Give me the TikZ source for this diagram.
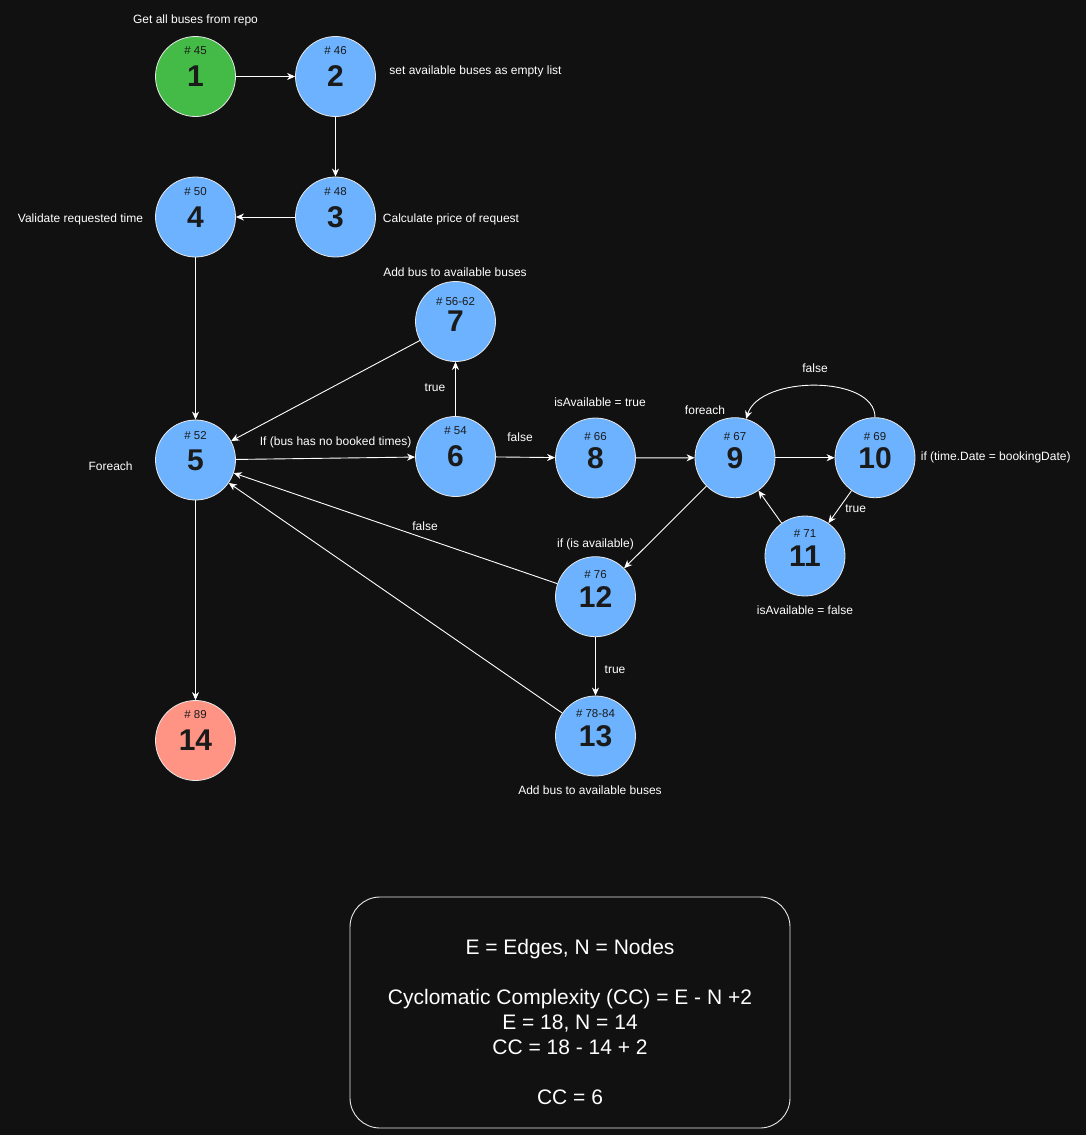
\documentclass[tikz,border=0pt]{standalone}
\usepackage{fontspec}
\setmainfont{Liberation Sans}
\usetikzlibrary{arrows.meta}
\definecolor{bg}{HTML}{111111}
\definecolor{nblue}{HTML}{6CB2FF}
\definecolor{ngreen}{HTML}{44BB46}
\definecolor{nred}{HTML}{FF9485}
\definecolor{ink}{HTML}{1A1A1A}
\definecolor{rim}{HTML}{E8E8E8}
\begin{document}
\begin{tikzpicture}[x=1pt,y=-1pt,
  cnode/.style={circle, draw=rim, line width=0.8pt, minimum size=80pt, inner sep=0pt,
    text=ink, font=\fontsize{30}{32}\selectfont\bfseries, fill=nblue},
  hashlbl/.style={font=\fontsize{11.5}{13}\selectfont, text=ink, inner sep=0pt},
  lbl/.style={text=white, font=\fontsize{12}{14}\selectfont, inner sep=0pt},
  edge/.style={draw=white, line width=0.9pt, -{Stealth[length=8pt,width=7pt,inset=2.5pt]}},
  ccbox/.style={draw=rim, line width=0.9pt, rounded corners=30pt, minimum width=440pt, minimum height=231pt},
  cctext/.style={text=white, align=center, font=\fontsize{21}{25}\selectfont, inner sep=0pt}
]
\fill[bg] (0,0) rectangle (1086,1135);
\useasboundingbox (0,0) rectangle (1086,1135);

% nodes
\node[cnode, fill=ngreen, label={[hashlbl, yshift=26pt]center:\# 45}] (n1) at (195.5,76.5) {1};
\node[cnode, label={[hashlbl, yshift=26pt]center:\# 46}] (n2) at (335.5,76.5) {2};
\node[cnode, label={[hashlbl, yshift=25pt]center:\# 48}] (n3) at (335.5,217) {3};
\node[cnode, label={[hashlbl, yshift=25pt]center:\# 50}] (n4) at (195.5,217) {4};
\node[cnode, label={[hashlbl, yshift=24pt]center:\# 52}] (n5) at (195.5,460) {5};
\node[cnode, label={[hashlbl, yshift=26pt]center:\# 54}] (n6) at (455.5,456.5) {6};
\node[cnode, label={[hashlbl, yshift=20pt]center:\# 56-62}] (n7) at (455.5,321.5) {7};
\node[cnode, label={[hashlbl, yshift=21pt]center:\# 66}] (n8) at (595.5,458) {8};
\node[cnode, label={[hashlbl, yshift=21pt]center:\# 67}] (n9) at (735,457.7) {9};
\node[cnode, label={[hashlbl, yshift=21pt]center:\# 69}] (n10) at (875,457.7) {10};
\node[cnode, label={[hashlbl, yshift=22pt]center:\# 71}] (n11) at (805,556) {11};
\node[cnode, label={[hashlbl, yshift=22pt]center:\# 76}] (n12) at (595.5,596.7) {12};
\node[cnode, label={[hashlbl, yshift=22pt]center:\# 78-84}] (n13) at (595.5,736) {13};
\node[cnode, fill=nred, label={[hashlbl, yshift=26pt]center:\# 89}] (n14) at (195.5,740.5) {14};

% edges
\draw[edge] (n1) -- (n2);
\draw[edge] (n2) -- (n3);
\draw[edge] (n3) -- (n4);
\draw[edge] (n4) -- (n5);
\draw[edge] (n5) -- (n6);
\draw[edge] (n6) -- (n7);
\draw[edge] (n7) -- (n5);
\draw[edge] (n6) -- (n8);
\draw[edge] (n8) -- (n9);
\draw[edge] (n9) -- (n10);
\draw[edge] (n10.north) .. controls (875,375) and (760,375) .. (n9.74);
\draw[edge] (n10) -- (n11);
\draw[edge] (n11) -- (n9);
\draw[edge] (n9) -- (n12);
\draw[edge] (n12) -- (n5);
\draw[edge] (n12) -- (n13);
\draw[edge] (n13) -- (n5);
\draw[edge] (n5) -- (n14);

% labels
\node[lbl] (t1) at (195.5,20) {Get all buses from repo};
\node[lbl] (t2) at (475.5,71.7) {set available buses as empty list};
\node[lbl] (t3) at (451,219.7) {Calculate price of request};
\node[lbl] (t4) at (80.5,219.7) {Validate requested time};
\node[lbl] (t5) at (455,272.7) {Add bus to available buses};
\node[lbl] (t6) at (110.6,466.7) {Foreach};
\node[lbl] (t7) at (335.6,442.7) {If (bus has no booked times)};
\node[lbl] (t8) at (435,388) {true};
\node[lbl] (t9) at (520,437.7) {false};
\node[lbl] (t10) at (600,402.7) {isAvailable = true};
\node[lbl] (t11) at (705,410.7) {foreach};
\node[lbl] (t12) at (815,368) {false};
\node[lbl] (t13) at (995.7,457.7) {if (time.Date = bookingDate)};
\node[lbl] (t14) at (855.7,508.7) {true};
\node[lbl] (t15) at (805,610) {isAvailable = false};
\node[lbl] (t16) at (425,526.7) {false};
\node[lbl] (t17) at (595.5,544) {if (is available)};
\node[lbl] (t18) at (615,670) {true};
\node[lbl] (t19) at (590,790.7) {Add bus to available buses};

% complexity box
\node[ccbox] (box) at (570,1012.5) {};
\node[cctext] (cc) at (570,1022) {E = Edges, N = Nodes\\[25pt]
Cyclomatic Complexity (CC) = E - N +2\\
E = 18, N = 14\\
CC = 18 - 14 + 2\\[25pt]
CC = 6};
\end{tikzpicture}
\end{document}
